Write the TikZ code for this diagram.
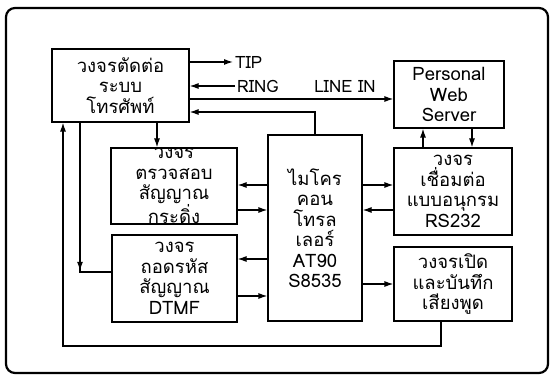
\documentclass[tikz,border=0pt]{standalone}
\usepackage{fontspec}
\newfontfamily\thaifont[Script=Thai]{Loma}
\usetikzlibrary{arrows.meta,decorations.markings}
\tikzset{
  blk/.style={draw,line width=1.2pt,align=center,inner sep=0pt,
    font=\thaifont\fontsize{18.5}{20.5}\selectfont},
  lbl/.style={font=\thaifont\fontsize{17}{18}\selectfont,inner sep=0pt},
  wire/.style={line width=1.2pt},
  tip/.style={-{Latex[length=9pt,width=6pt]}},
  midtip/.style={postaction={decorate},decoration={markings,
    mark=at position #1 with {\arrow{Latex[length=9pt,width=6pt]}}}}
}
\begin{document}
\begin{tikzpicture}[x=1pt,y=-1pt]
\useasboundingbox (0,0) rectangle (550,379);
\draw[line width=2.2pt,rounded corners=9pt] (6,8) rectangle (548,373);
% blocks
\node[blk,minimum width=137pt,minimum height=73pt] (conn) at (120.5,85.5)
  {วงจรตัดต่อ\\ระบบ\\โทรศัพท์};
\node[blk,minimum width=126pt,minimum height=76pt] (ring) at (174,186)
  {วงจร\\ตรวจสอบ\\สัญญาณ\\กระดิ่ง};
\node[blk,minimum width=125pt,minimum height=87pt] (dtmf) at (174.5,278.5)
  {วงจร\\ถอดรหัส\\สัญญาณ\\DTMF};
\node[blk,minimum width=94pt,minimum height=186pt] (mcu) at (315,228)
  {ไมโคร\\คอน\\โทรล\\เลอร์\\AT90\\S8535};
\node[blk,minimum width=110pt,minimum height=67pt] (pws) at (449,94.5)
  {Personal\\Web\\Server};
\node[blk,minimum width=118pt,minimum height=87pt] (rs) at (453,191.5)
  {วงจร\\เชื่อมต่อ\\แบบอนุกรม\\RS232};
\node[blk,minimum width=118pt,minimum height=74pt] (snd) at (453,284)
  {วงจรเปิด\\และบันทึก\\เสียงพูด};
% labels
\node[lbl,anchor=west] (tipl) at (235,62) {TIP};
\node[lbl,anchor=west] (ringl) at (237,86) {RING};
\node[lbl] (linel) at (345,86) {LINE IN};
% levels
\coordinate (yLine) at (0,99);
\coordinate (yBack) at (0,112);
\coordinate (yUp) at (0,185);
\coordinate (yDn) at (0,210);
\coordinate (yD1) at (0,259);
\coordinate (yD2) at (0,296);
\coordinate (yDt) at (0,272);
\coordinate (yLoop) at (0,346);
\coordinate (xAB) at (157,0);
\coordinate (xL1) at (63,0);
\coordinate (xL2) at (80,0);
\coordinate (xP1) at (423,0);
\coordinate (xP2) at (472,0);
\coordinate (xS) at (441,0);
% connectors
\draw[wire,tip] (conn.east |- tipl.west) -- ([xshift=-2pt]tipl.west);
\draw[wire,tip] ([xshift=-2pt]ringl.west) -- (conn.east |- ringl.west);
\draw[wire,tip] (conn.east |- yLine) -- (pws.west |- yLine);
\draw[wire,tip] (mcu.north) |- (conn.east |- yBack);
\draw[wire,tip] (conn.south -| xAB) -- (ring.north -| xAB);
\draw[wire,tip] (rs.north -| xP1) -- (pws.south -| xP1);
\draw[wire,tip] (pws.south -| xP2) -- (rs.north -| xP2);
\draw[wire,tip] (mcu.west |- yUp) -- (ring.east |- yUp);
\draw[wire,tip] (ring.east |- yDn) -- (mcu.west |- yDn);
\draw[wire,tip] (mcu.east |- yUp) -- (rs.west |- yUp);
\draw[wire,tip] (rs.west |- yDn) -- (mcu.east |- yDn);
\draw[wire,tip] (mcu.west |- yD1) -- (dtmf.east |- yD1);
\draw[wire,tip] (dtmf.east |- yD2) -- (mcu.west |- yD2);
\draw[wire,tip] (mcu.east |- snd) -- (snd.west);
\draw[wire,midtip=0.82] (conn.south -| xL2) |- (dtmf.west |- yDt);
\draw[wire,tip,{Latex[length=9pt,width=6pt]}-] (conn.south -| xL1) |- (xS |- yLoop) -- (snd.south -| xS);
\end{tikzpicture}
\end{document}
